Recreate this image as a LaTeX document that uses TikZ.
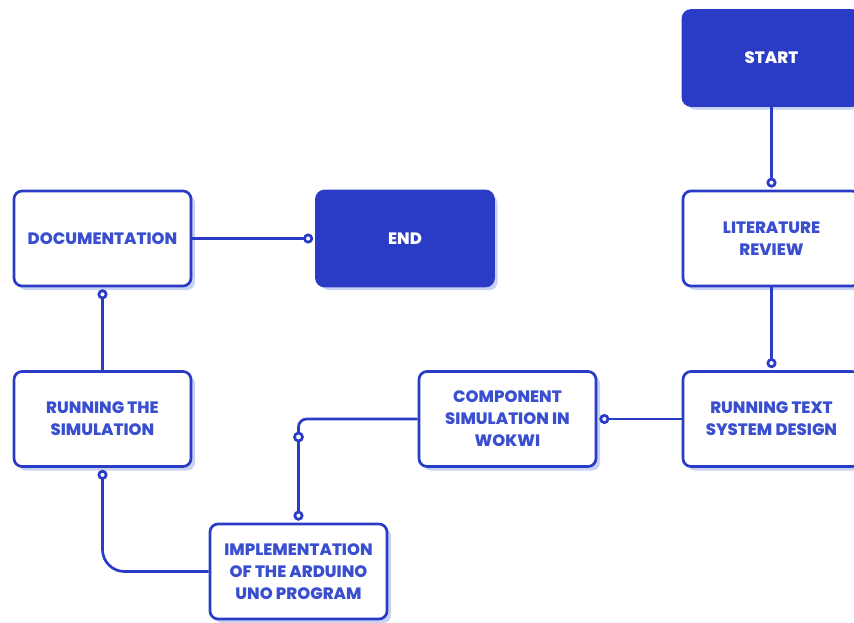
\documentclass[tikz,border=0pt]{standalone}
\usepackage{fontspec}
\setmainfont{Poppins}[BoldFont={Poppins ExtraBold}]
\usepackage{tikz}
\usetikzlibrary{positioning,shadows,arrows.meta}
\definecolor{dblue}{HTML}{2A3CC6}
\definecolor{lblue}{HTML}{3A4FD0}
\definecolor{sblue}{HTML}{C8D2F2}
\tikzstyle{s1} = [rectangle, rounded corners=8pt, fill=dblue, draw=dblue, line width=2.7pt, minimum width=177pt, minimum height=95pt, text=white, font=\bfseries\fontsize{16.5}{22}\selectfont, align=center, drop shadow={shadow xshift=4pt, shadow yshift=-4pt, fill=sblue, opacity=1}]
\tikzstyle{s2} = [rectangle, rounded corners=8pt, fill=white, draw=dblue, line width=2.7pt, minimum width=177pt, minimum height=95pt, text=lblue, font=\bfseries\fontsize{16.5}{22}\selectfont, align=center, drop shadow={shadow xshift=4pt, shadow yshift=-4pt, fill=sblue, opacity=1}]
\tikzstyle{c1} = [draw=dblue, line width=2.7pt, -{Circle[open,length=10pt,width=10pt]}, shorten >=2pt]

\begin{document}
\begin{tikzpicture}[x=1pt, y=-1pt, on grid]
\useasboundingbox (0,0) rectangle (854,622);
\node(S)[s1] at (771.5,58) {START};
\node(L)[s2, below=180.5pt of S] {LITERATURE\\REVIEW};
\node(R)[s2, below=180.5pt of L] {RUNNING TEXT\\SYSTEM DESIGN};
\node(C)[s2, left=264pt of R] {COMPONENT\\SIMULATION IN\\WOKWI};
\node(I)[s2, below left=152.5pt and 209pt of C] {IMPLEMENTATION\\OF THE ARDUINO\\UNO PROGRAM};
\node(Q)[s2, left=405pt of C] {RUNNING THE\\SIMULATION};
\node(D)[s2, above=180.5pt of Q] {DOCUMENTATION};
\node(E)[s1, right=302.5pt of D] {END};
\coordinate(K) at (I.north |- C.west);
\draw[c1](S.south)--(L.north);
\draw[c1](L.south)--(R.north);
\draw[c1](R.west)--(C.east);
\draw[c1, rounded corners=8pt](C.west) -| (I.north);
\draw[dblue, line width=2.7pt, fill=white]([yshift=-18pt]K) circle (4pt);
\draw[c1, rounded corners=22pt](I.west) -| (Q.south);
\draw[c1](Q.north)--(D.south);
\draw[c1](D.east)--(E.west);
\end{tikzpicture}
\end{document}
